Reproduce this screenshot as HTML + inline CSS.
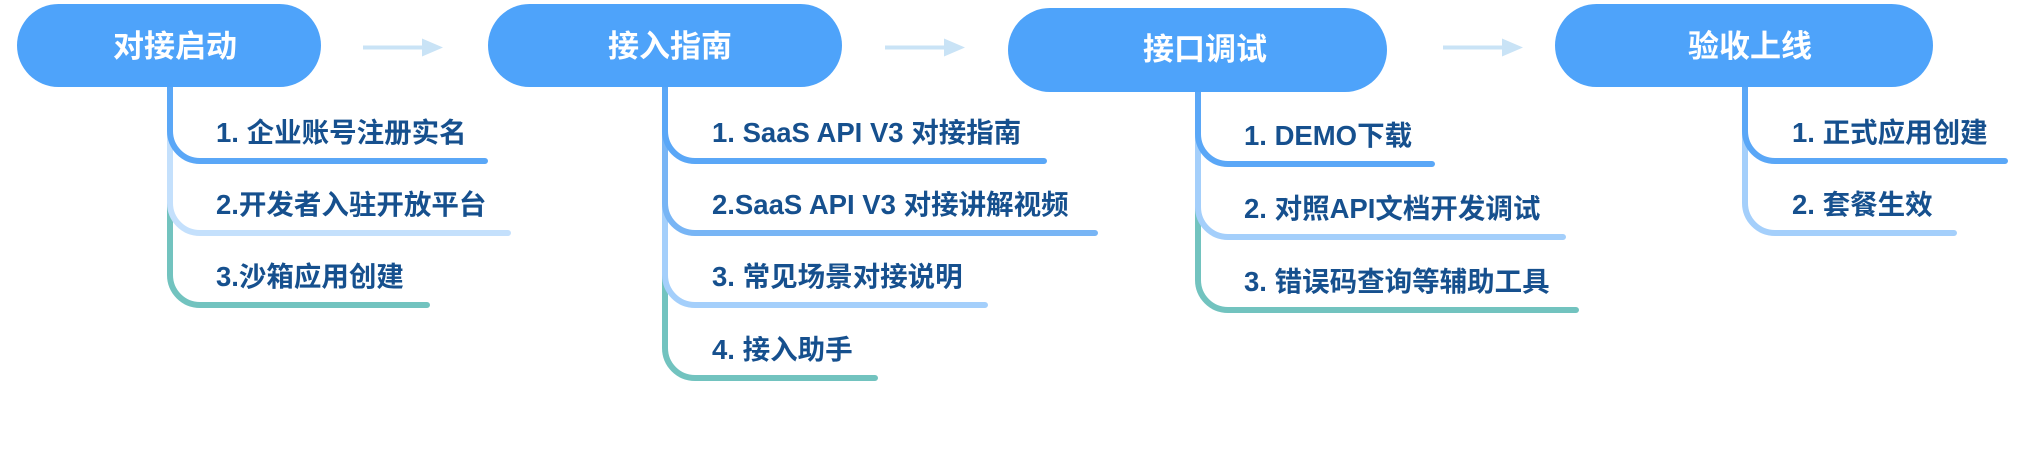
<!DOCTYPE html>
<html><head><meta charset="utf-8"><style>
html,body{margin:0;padding:0;background:#fff;width:2020px;height:469px;overflow:hidden}
svg{display:block}
.t{font-family:"Liberation Sans","Noto Sans CJK SC",sans-serif;font-weight:bold;fill:#fff;font-size:31px}
.i{font-family:"Liberation Sans","Noto Sans CJK SC",sans-serif;font-weight:bold;fill:#16508e;font-size:27.5px}
.b{fill:none;stroke-width:6;stroke-linecap:round;stroke-linejoin:round}
</style></head><body>
<svg width="2020" height="469" viewBox="0 0 2020 469" xmlns="http://www.w3.org/2000/svg">
<!-- arrows -->
<g fill="#c9e3f6" stroke="none">
<rect x="363" y="45.5" width="60" height="4"/><polygon points="422,38.5 443,47.5 422,56.5"/>
<rect x="885" y="45.5" width="60" height="4"/><polygon points="944,38.5 965,47.5 944,56.5"/>
<rect x="1443" y="45.5" width="60" height="4"/><polygon points="1502,38.5 1523,47.5 1502,56.5"/>
</g>

<!-- Node 1 branches (trunk x=170, bottom 87) -->
<path class="b" stroke="#72c3bf" d="M170 84 L170 275 A30 30 0 0 0 200 305 L427 305"/>
<path class="b" stroke="#c4e0fc" d="M170 84 L170 203 A30 30 0 0 0 200 233 L508 233"/>
<path class="b" stroke="#5aa7f7" d="M170 84 L170 131 A30 30 0 0 0 200 161 L485 161"/>

<!-- Node 2 branches (trunk x=665) -->
<path class="b" stroke="#72c3bf" d="M665 84 L665 348 A30 30 0 0 0 695 378 L875 378"/>
<path class="b" stroke="#a4cffb" d="M665 84 L665 275 A30 30 0 0 0 695 305 L985 305"/>
<path class="b" stroke="#78b5f5" d="M665 84 L665 203 A30 30 0 0 0 695 233 L1095 233"/>
<path class="b" stroke="#5aa7f7" d="M665 84 L665 131 A30 30 0 0 0 695 161 L1044 161"/>

<!-- Node 3 branches (trunk x=1198) -->
<path class="b" stroke="#72c3bf" d="M1198 88 L1198 280 A30 30 0 0 0 1228 310 L1576 310"/>
<path class="b" stroke="#a4cffb" d="M1198 88 L1198 207 A30 30 0 0 0 1228 237 L1563 237"/>
<path class="b" stroke="#5aa7f7" d="M1198 88 L1198 134 A30 30 0 0 0 1228 164 L1432 164"/>

<!-- Node 4 branches (trunk x=1745) -->
<path class="b" stroke="#a4cffb" d="M1745 84 L1745 203 A30 30 0 0 0 1775 233 L1954 233"/>
<path class="b" stroke="#5aa7f7" d="M1745 84 L1745 131 A30 30 0 0 0 1775 161 L2005 161"/>

<!-- nodes -->
<g fill="#4ea3fa">
<rect x="17" y="4" width="304" height="83" rx="41.5" ry="41.5"/>
<rect x="488" y="4" width="354" height="83" rx="41.5" ry="41.5"/>
<rect x="1008" y="8" width="379" height="84" rx="42" ry="42"/>
<rect x="1555" y="4" width="378" height="83" rx="41.5" ry="41.5"/>
</g>
<text class="t" x="175" y="57" text-anchor="middle">对接启动</text>
<text class="t" x="670" y="57" text-anchor="middle">接入指南</text>
<text class="t" x="1205" y="60" text-anchor="middle">接口调试</text>
<text class="t" x="1750" y="57" text-anchor="middle">验收上线</text>

<!-- items node 1 -->
<text class="i" x="216" y="142">1. 企业账号注册实名</text>
<text class="i" x="216" y="214">2.开发者入驻开放平台</text>
<text class="i" x="216" y="286">3.沙箱应用创建</text>

<!-- items node 2 -->
<text class="i" x="712" y="142">1. SaaS API V3 对接指南</text>
<text class="i" x="712" y="214">2.SaaS API V3 对接讲解视频</text>
<text class="i" x="712" y="286">3. 常见场景对接说明</text>
<text class="i" x="712" y="359">4. 接入助手</text>

<!-- items node 3 -->
<text class="i" x="1244" y="145">1. DEMO下载</text>
<text class="i" x="1244" y="218">2. 对照API文档开发调试</text>
<text class="i" x="1244" y="291">3. 错误码查询等辅助工具</text>

<!-- items node 4 -->
<text class="i" x="1792" y="142">1. 正式应用创建</text>
<text class="i" x="1792" y="214">2. 套餐生效</text>
</svg>
</body></html>
